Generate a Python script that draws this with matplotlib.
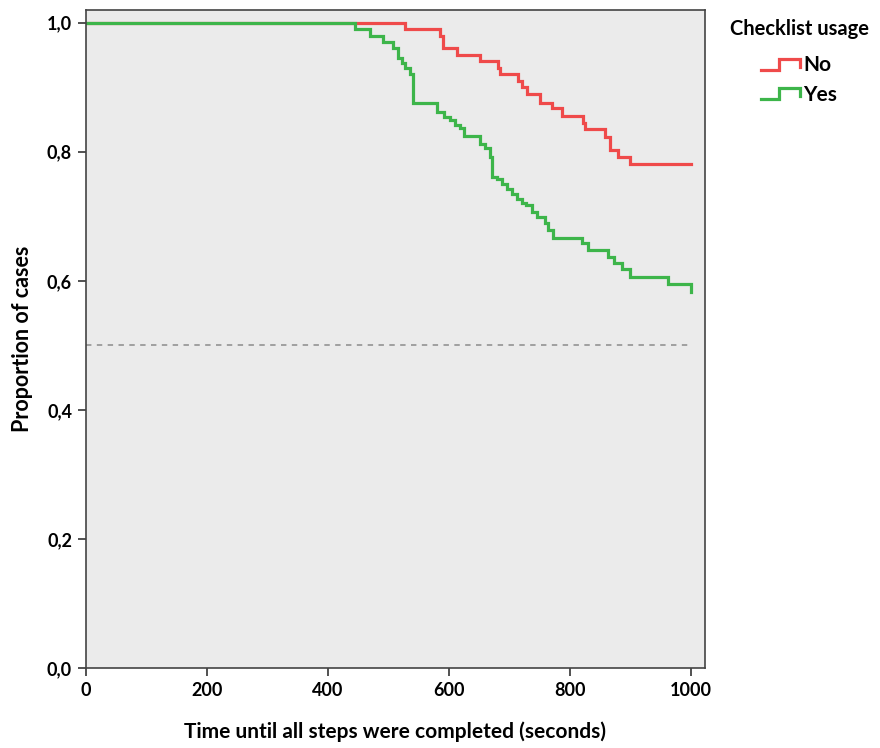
import matplotlib
matplotlib.use("Agg")
import matplotlib.pyplot as plt
from matplotlib.legend_handler import HandlerBase
from matplotlib.lines import Line2D
import numpy as np

plt.rcParams['font.family'] = ['Lato', 'DejaVu Sans']
plt.rcParams['font.weight'] = 'bold'

# Kaplan-Meier style curves (time in s, proportion after event)
no_times = [527, 585, 590, 613, 651, 681, 684, 714, 720, 729, 750, 770, 786,
            822, 825, 858, 866, 880, 899]
no_surv = [0.99, 0.98, 0.96, 0.95, 0.94, 0.93, 0.92, 0.91, 0.90, 0.89, 0.875,
           0.867, 0.855, 0.845, 0.835, 0.823, 0.802, 0.792, 0.781]

yes_times = [445, 469, 491, 508, 516, 522, 527, 535, 541, 580, 591, 602, 610,
             618, 624, 651, 660, 668, 671, 679, 687, 695, 704, 712, 720, 728,
             737, 745, 759, 764, 772, 819, 830, 863, 872, 886, 899, 962, 1000]
yes_surv = [0.99, 0.979, 0.97, 0.96, 0.945, 0.937, 0.929, 0.92, 0.875, 0.862,
            0.854, 0.849, 0.841, 0.836, 0.825, 0.8125, 0.805, 0.792, 0.761,
            0.758, 0.75, 0.743, 0.735, 0.727, 0.72, 0.717, 0.707, 0.699, 0.689,
            0.678, 0.667, 0.658, 0.647, 0.637, 0.627, 0.619, 0.606, 0.595, 0.583]

end_time = 1000
groups = ['No', 'Yes']
colors = ['#ef4a4a', '#3db54a']


class StepHandler(HandlerBase):
    # legend key drawn as a little step, like the SPSS one
    def create_artists(self, legend, orig_handle, xd, yd, w, h, fontsize, trans):
        xs = [xd, xd + w * 0.45, xd + w * 0.45, xd + w, xd + w]
        ys = [yd + h * 0.1, yd + h * 0.1, yd + h * 0.85, yd + h * 0.85, yd + h * 0.3]
        ln = Line2D(xs, ys, color=orig_handle.get_color(), lw=orig_handle.get_linewidth(),
                    solid_joinstyle='miter')
        ln.set_transform(trans)
        return [ln]


fig = plt.figure(figsize=(8.8, 7.48), dpi=100)
ax = fig.add_axes([0.0977, 0.107, 0.7034, 0.8797])
ax.set_facecolor('#ebebeb')

handles = []
for times, surv, col in [(no_times, no_surv, colors[0]), (yes_times, yes_surv, colors[1])]:
    t = np.concatenate([[0], times])
    s = np.concatenate([[1.0], surv])
    if t[-1] < end_time:
        t = np.append(t, end_time)
        s = np.append(s, s[-1])
    ln, = ax.step(t, s, where='post', color=col, lw=2.3, solid_joinstyle='miter')
    handles.append(ln)

ax.plot([0, end_time], [0.5, 0.5], color='#9a9a9a', lw=1.3, linestyle=(0, (3, 3)))

ax.set_xlim(0, 1023)
ax.set_ylim(0, 1.0197)
ax.set_xticks(np.arange(0, 1001, 200))
ax.set_yticks(np.arange(0, 1.01, 0.2))
ax.set_yticklabels([f'{v:.1f}'.replace('.', ',') for v in np.arange(0, 1.01, 0.2)])
ax.tick_params(direction='out', length=6, width=1.2, color='#333333',
               labelsize=13, pad=4)
for lab in ax.get_xticklabels() + ax.get_yticklabels():
    lab.set_fontweight('bold')
for sp in ax.spines.values():
    sp.set_color('#444444')
    sp.set_linewidth(1.2)

ax.set_xlabel('Time until all steps were completed (seconds)', fontsize=15,
              fontweight='bold', labelpad=16)
ax.set_ylabel('Proportion of cases', fontsize=15.5, fontweight='bold', labelpad=10)

leg = fig.legend(handles, groups, title='Checklist usage', loc='upper left',
                 bbox_to_anchor=(0.829, 0.975), frameon=False, fontsize=15,
                 title_fontproperties={'weight': 'bold', 'size': 14.5},
                 handler_map={Line2D: StepHandler()}, handlelength=1.9,
                 handletextpad=0.15, labelspacing=0.45, borderpad=0,
                 borderaxespad=0)
leg._legend_box.sep = 12
for txt in leg.get_texts():
    txt.set_fontweight('bold')

fig.savefig('out.png', dpi=100, facecolor='white')
